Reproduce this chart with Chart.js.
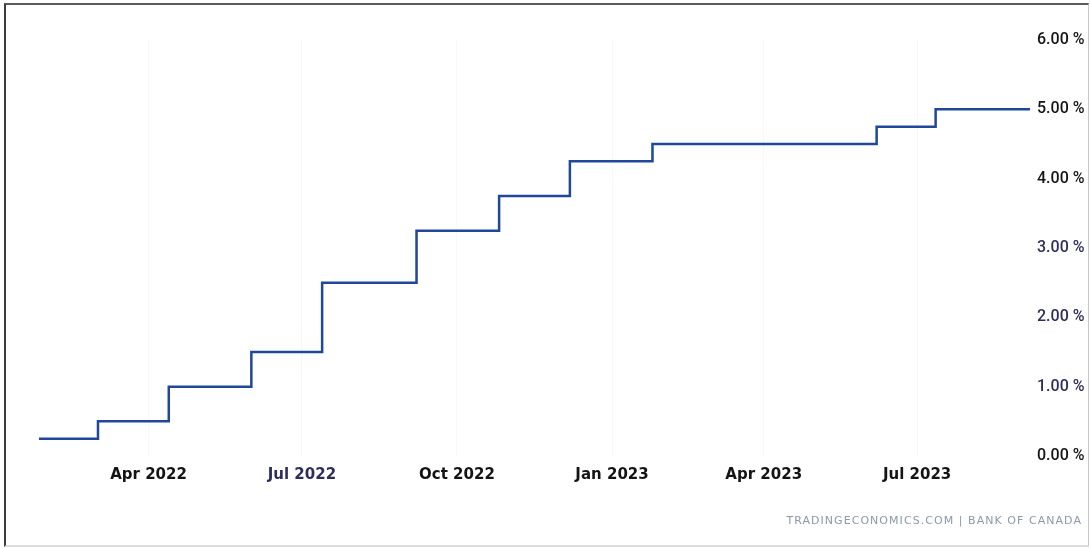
<!DOCTYPE html>
<html>
<head>
<meta charset="utf-8">
<script src="https://cdn.jsdelivr.net/npm/chart.js@4.4.1/dist/chart.umd.min.js"></script>
<style>
  html, body { margin: 0; padding: 0; background: #fff; }
  #wrap { position: relative; width: 1090px; height: 548px; overflow: hidden; }
  #c { position: absolute; left: 0; top: 0; }
  #frame {
    position: absolute; left: 4px; top: 3px; width: 1082px; height: 540px;
    border-top: 2px solid #5a5a5a; border-left: 2px solid #3c3c3c;
    border-right: 1px solid #c8c8c8; border-bottom: 2px solid #dcdcdc;
    pointer-events: none;
  }
  #source {
    position: absolute; right: 8px; top: 514px;
    font-family: "DejaVu Sans", sans-serif; font-size: 11px; letter-spacing: 1.05px;
    color: #8b99aa;
  }
</style>
</head>
<body>
<div id="wrap">
  <canvas id="c" width="1090" height="548"></canvas>
  <div id="frame"></div>
  <div id="source">TRADINGECONOMICS.COM | BANK OF CANADA</div>
</div>
<script>
// Bank of Canada policy rate: each date is when a new rate took effect
const rateDates = ['2022-01-26', '2022-03-02', '2022-04-13', '2022-06-01', '2022-07-13',
                   '2022-09-07', '2022-10-26', '2022-12-07', '2023-01-25', '2023-06-07',
                   '2023-07-12', '2023-09-06'];
const rateValues = [0.25, 0.50, 1.00, 1.50, 2.50, 3.25, 3.75, 4.25, 4.50, 4.75, 5.00, 5.00];

// Quarter-start ticks along the time axis
const xTickDates = ['2022-04-01', '2022-07-01', '2022-10-01', '2023-01-01', '2023-04-01', '2023-07-01'];
const xTickColors = ['#141414', '#2e2e5c', '#141414', '#141414', '#141414', '#141414'];
const yTickValues = [0, 1, 2, 3, 4, 5, 6];
const yTickColors = ['#141414', '#2e2e5c', '#2e2e5c', '#2e2e5c', '#141414', '#141414', '#141414'];

const MONTHS = ['Jan', 'Feb', 'Mar', 'Apr', 'May', 'Jun', 'Jul', 'Aug', 'Sep', 'Oct', 'Nov', 'Dec'];
const DAY = 86400000;
const toDay = s => Date.parse(s + 'T00:00:00Z') / DAY;
const dayLabel = d => { const t = new Date(d * DAY); return MONTHS[t.getUTCMonth()] + ' ' + t.getUTCFullYear(); };

const points = rateDates.map((d, i) => ({ x: toDay(d), y: rateValues[i] }));
const xTicks = xTickDates.map(toDay);

new Chart(document.getElementById('c'), {
  type: 'line',
  data: {
    datasets: [{
      data: points,
      stepped: true,
      borderColor: '#21479a',
      borderWidth: 2.5,
      pointRadius: 0,
      fill: false
    }]
  },
  options: {
    responsive: false,
    animation: false,
    layout: { padding: { left: 39, right: 0, top: 40, bottom: 62 } },
    plugins: { legend: { display: false }, tooltip: { enabled: false } },
    scales: {
      x: {
        type: 'linear',
        min: points[0].x,
        max: points[points.length - 1].x,
        afterBuildTicks: s => { s.ticks = xTicks.map(v => ({ value: v })); },
        afterFit: s => { s.height = 30; },
        grid: { display: true, color: '#f8f8f8', drawTicks: false },
        border: { display: false },
        ticks: {
          padding: 10,
          maxRotation: 0,
          autoSkip: false,
          color: ctx => xTickColors[ctx.index],
          font: { family: 'DejaVu Sans', size: 15, weight: 'bold' },
          callback: v => dayLabel(v)
        }
      },
      y: {
        position: 'right',
        min: 0,
        max: 6,
        afterBuildTicks: s => { s.ticks = yTickValues.map(v => ({ value: v })); },
        afterFit: s => { s.width = 60; },
        grid: { display: false, drawTicks: false },
        border: { display: false },
        ticks: {
          padding: 7,
          color: ctx => yTickColors[ctx.index],
          font: { family: 'Roboto', size: 16, weight: '500' },
          callback: v => v.toFixed(2) + ' %'
        }
      }
    }
  }
});
</script>
</body>
</html>
